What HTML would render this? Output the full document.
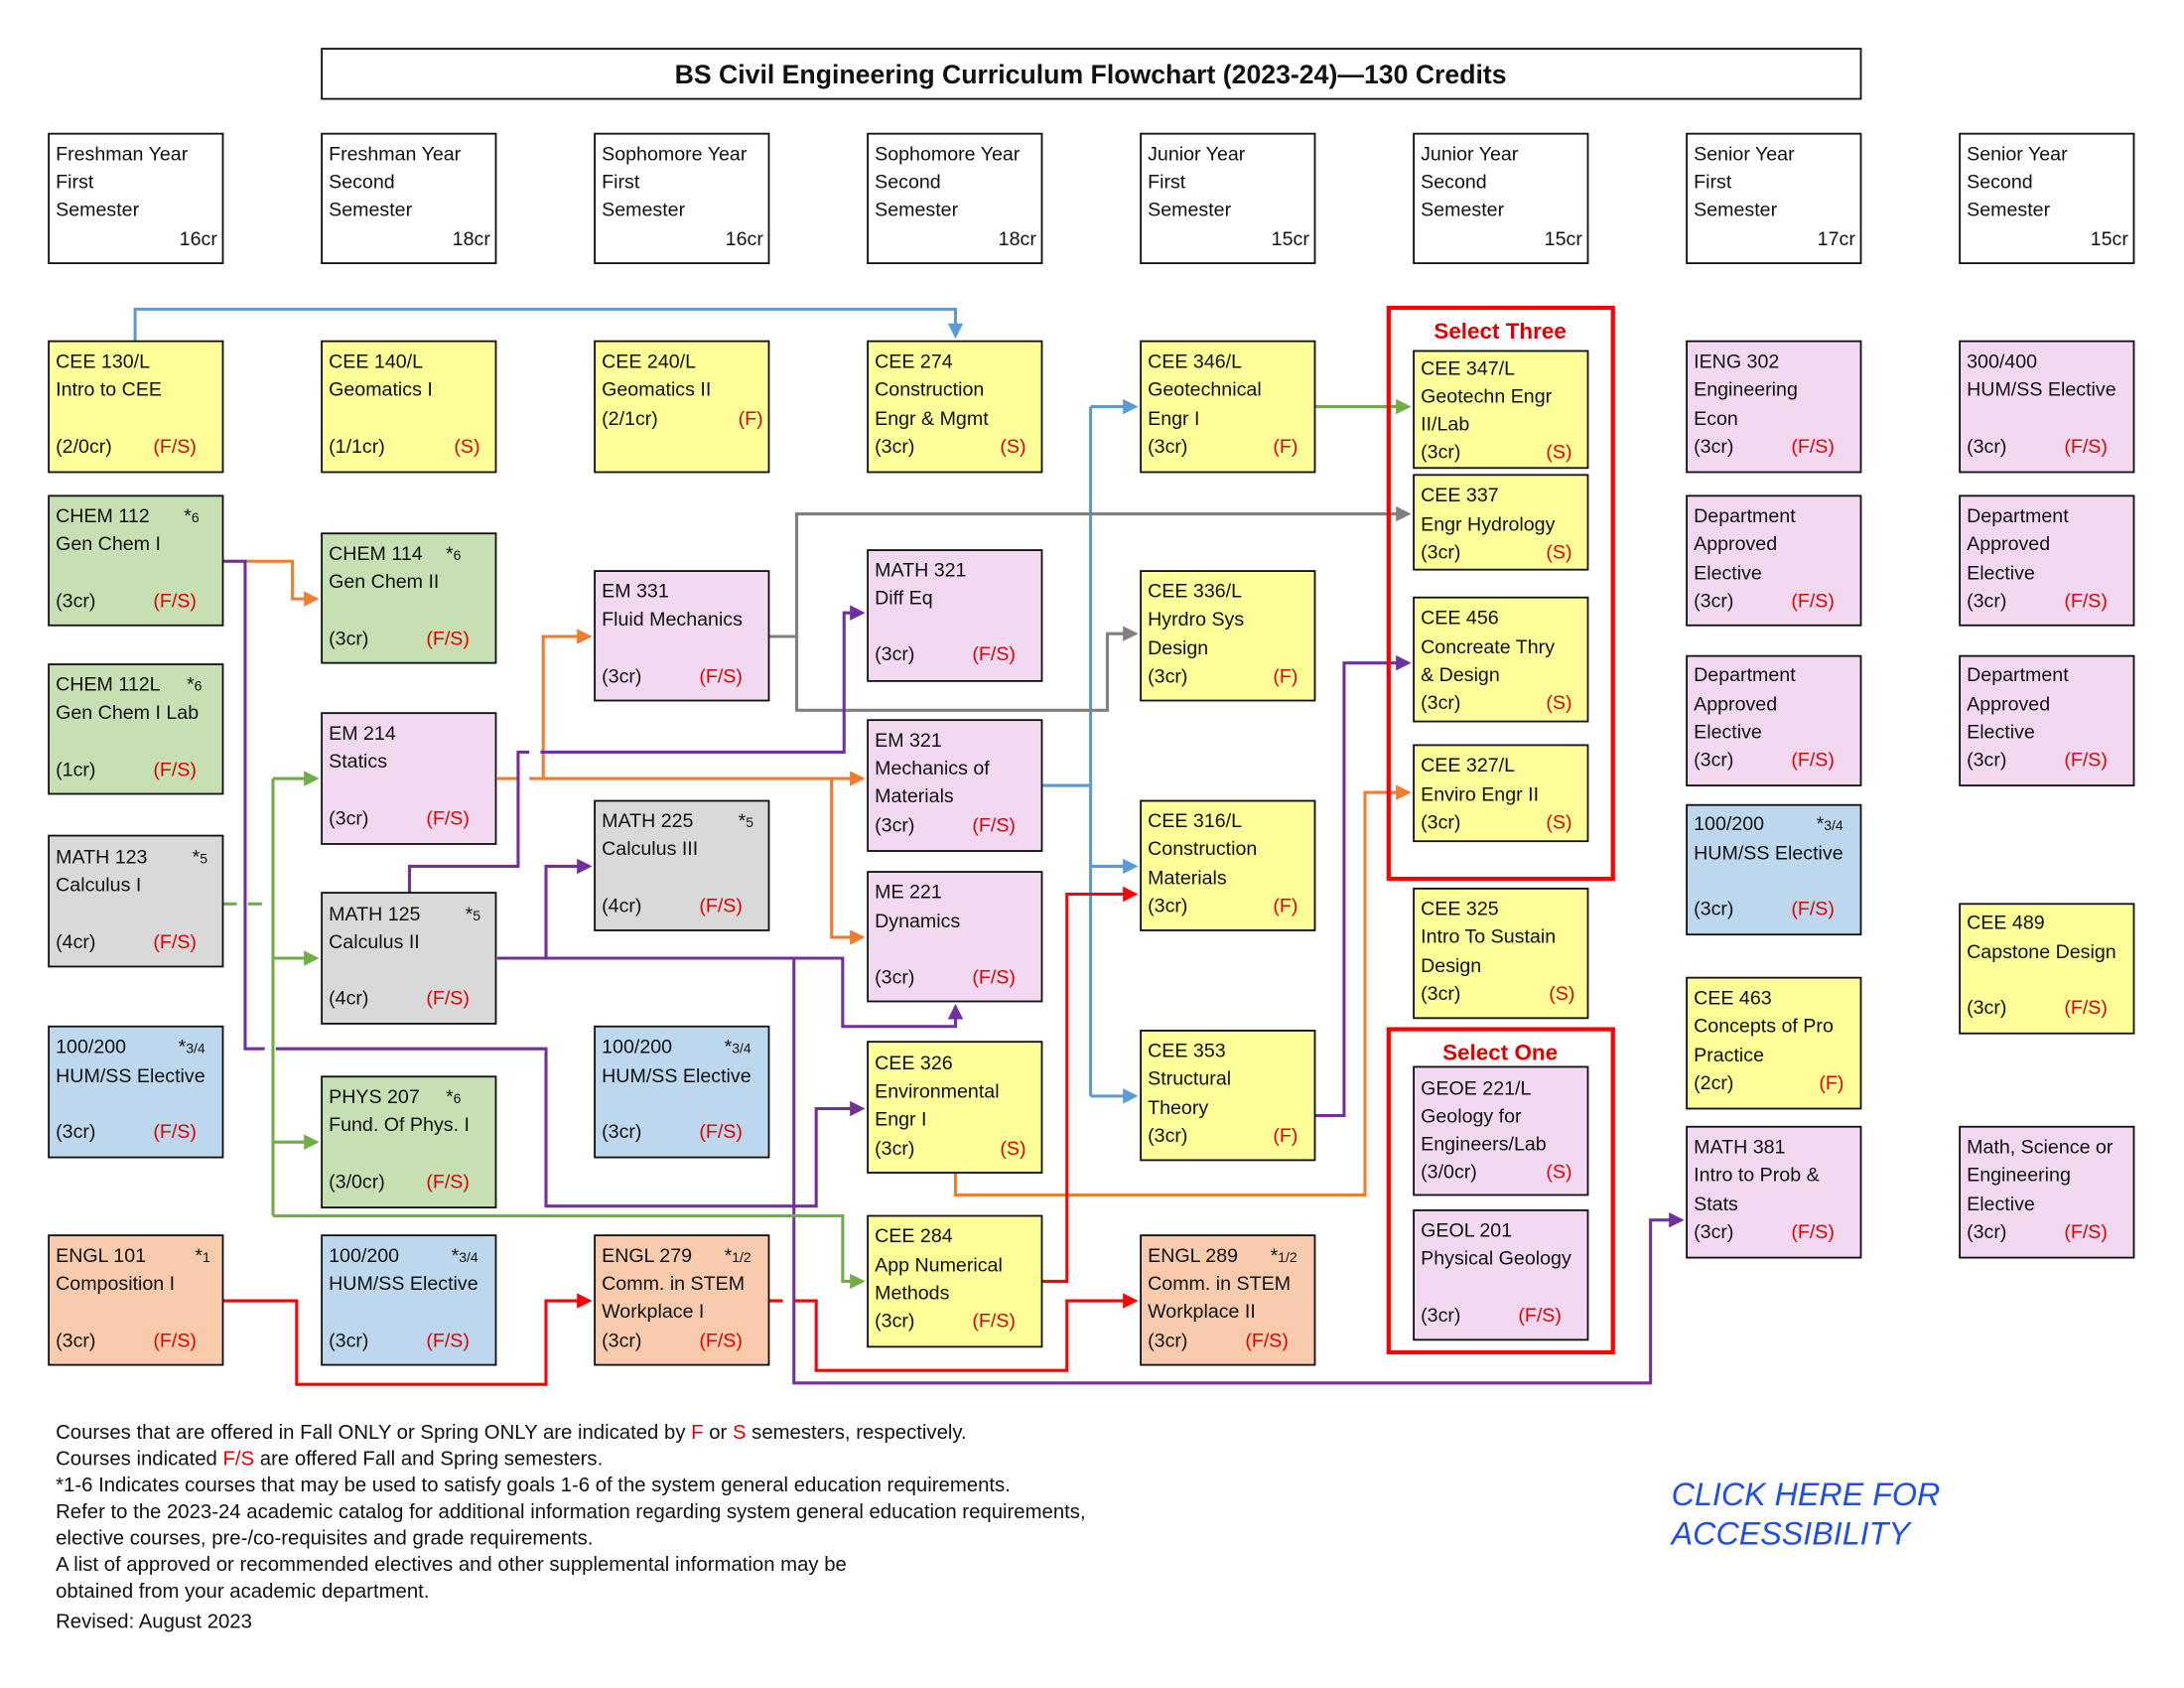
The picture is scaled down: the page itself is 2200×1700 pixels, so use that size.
<!DOCTYPE html>
<html><head><meta charset="utf-8"><style>
html,body{margin:0;padding:0;background:#fff;}
svg{display:block;}
text{font-family:"Liberation Sans",sans-serif;font-size:14px;fill:#111;}
.r{fill:#E00000;}
.y{fill:#FFFF99;stroke:#111;stroke-width:1.3;}
.g{fill:#C6E0B4;stroke:#111;stroke-width:1.3;}
.k{fill:#D9D9D9;stroke:#111;stroke-width:1.3;}
.b{fill:#BDD7EE;stroke:#111;stroke-width:1.3;}
.p{fill:#F8CBAD;stroke:#111;stroke-width:1.3;}
.m{fill:#F2D8F0;stroke:#111;stroke-width:1.3;}
.w{fill:#fff;stroke:#111;stroke-width:1.3;}
.l{fill:none;stroke-width:2.2;}
.sm{font-size:10px;}
.ft{font-size:14.5px;}
</style></head><body>
<svg width="2200" height="1700" viewBox="0 0 1568 1212" preserveAspectRatio="none" xmlns="http://www.w3.org/2000/svg">
<defs>
<marker id="aB" markerWidth="5" markerHeight="5" refX="4" refY="2.5" orient="auto"><path d="M0,0L5,2.5L0,5z" fill="#5B9BD5"/></marker>
<marker id="aG" markerWidth="5" markerHeight="5" refX="4" refY="2.5" orient="auto"><path d="M0,0L5,2.5L0,5z" fill="#70AD47"/></marker>
<marker id="aY" markerWidth="5" markerHeight="5" refX="4" refY="2.5" orient="auto"><path d="M0,0L5,2.5L0,5z" fill="#808080"/></marker>
<marker id="aO" markerWidth="5" markerHeight="5" refX="4" refY="2.5" orient="auto"><path d="M0,0L5,2.5L0,5z" fill="#ED7D31"/></marker>
<marker id="aP" markerWidth="5" markerHeight="5" refX="4" refY="2.5" orient="auto"><path d="M0,0L5,2.5L0,5z" fill="#7030A0"/></marker>
<marker id="aR" markerWidth="5" markerHeight="5" refX="4" refY="2.5" orient="auto"><path d="M0,0L5,2.5L0,5z" fill="#FF0000"/></marker>
</defs>

<rect x="231" y="35" width="1105" height="36" class="w"/>
<text x="783" y="60" text-anchor="middle" style="font-size:19px;font-weight:bold">BS Civil Engineering Curriculum Flowchart (2023-24)—130 Credits</text>

<g><rect x="35" y="96" width="125" height="93" class="w"/><text x="40" y="115">Freshman Year</text><text x="40" y="135">First</text><text x="40" y="155">Semester</text><text x="156" y="176" text-anchor="end">16cr</text></g>
<g><rect x="231" y="96" width="125" height="93" class="w"/><text x="236" y="115">Freshman Year</text><text x="236" y="135">Second</text><text x="236" y="155">Semester</text><text x="352" y="176" text-anchor="end">18cr</text></g>
<g><rect x="427" y="96" width="125" height="93" class="w"/><text x="432" y="115">Sophomore Year</text><text x="432" y="135">First</text><text x="432" y="155">Semester</text><text x="548" y="176" text-anchor="end">16cr</text></g>
<g><rect x="623" y="96" width="125" height="93" class="w"/><text x="628" y="115">Sophomore Year</text><text x="628" y="135">Second</text><text x="628" y="155">Semester</text><text x="744" y="176" text-anchor="end">18cr</text></g>
<g><rect x="819" y="96" width="125" height="93" class="w"/><text x="824" y="115">Junior Year</text><text x="824" y="135">First</text><text x="824" y="155">Semester</text><text x="940" y="176" text-anchor="end">15cr</text></g>
<g><rect x="1015" y="96" width="125" height="93" class="w"/><text x="1020" y="115">Junior Year</text><text x="1020" y="135">Second</text><text x="1020" y="155">Semester</text><text x="1136" y="176" text-anchor="end">15cr</text></g>
<g><rect x="1211" y="96" width="125" height="93" class="w"/><text x="1216" y="115">Senior Year</text><text x="1216" y="135">First</text><text x="1216" y="155">Semester</text><text x="1332" y="176" text-anchor="end">17cr</text></g>
<g><rect x="1407" y="96" width="125" height="93" class="w"/><text x="1412" y="115">Senior Year</text><text x="1412" y="135">Second</text><text x="1412" y="155">Semester</text><text x="1528" y="176" text-anchor="end">15cr</text></g>

<path class="l" stroke="#5B9BD5" d="M97,245V222H686V241" marker-end="url(#aB)"/>
<path class="l" stroke="#5B9BD5" d="M748,564H783M783,292V787M783,292H815" marker-end="url(#aB)"/>
<path class="l" stroke="#5B9BD5" d="M783,622H815" marker-end="url(#aB)"/>
<path class="l" stroke="#5B9BD5" d="M783,787H815" marker-end="url(#aB)"/>
<path class="l" stroke="#70AD47" d="M944,292H1011" marker-end="url(#aG)"/>
<path class="l" stroke="#808080" d="M552,457H572V369H1011" marker-end="url(#aY)"/>
<path class="l" stroke="#808080" d="M572,457V510H795V455H815" marker-end="url(#aY)"/>
<path class="l" stroke="#ED7D31" d="M160,403H210V430H227" marker-end="url(#aO)"/>
<path class="l" stroke="#ED7D31" d="M357,559H372M380,559H619" marker-end="url(#aO)"/>
<path class="l" stroke="#ED7D31" d="M390,559V457H423" marker-end="url(#aO)"/>
<path class="l" stroke="#ED7D31" d="M597,559V673H619" marker-end="url(#aO)"/>
<path class="l" stroke="#ED7D31" d="M686,842V858H980V569H1011" marker-end="url(#aO)"/>
<path class="l" stroke="#7030A0" d="M160,403H176V753H190M198,753H392V866H586V796H619" marker-end="url(#aP)"/>
<path class="l" stroke="#7030A0" d="M294,641V622H372V540H380M388,540H606V440H619" marker-end="url(#aP)"/>
<path class="l" stroke="#7030A0" d="M357,688H605V737H686V723" marker-end="url(#aP)"/>
<path class="l" stroke="#7030A0" d="M392,688V622H423" marker-end="url(#aP)"/>
<path class="l" stroke="#7030A0" d="M570,688V993H1185V876H1207" marker-end="url(#aP)"/>
<path class="l" stroke="#7030A0" d="M944,801H965V476H1011" marker-end="url(#aP)"/>
<path class="l" stroke="#70AD47" d="M160,649H170M178,649H188M196,559V873" />
<path class="l" stroke="#70AD47" d="M196,559H227" marker-end="url(#aG)"/>
<path class="l" stroke="#70AD47" d="M196,688H227" marker-end="url(#aG)"/>
<path class="l" stroke="#70AD47" d="M196,820H227" marker-end="url(#aG)"/>
<path class="l" stroke="#70AD47" d="M196,873H605V920H619" marker-end="url(#aG)"/>
<path class="l" stroke="#FF0000" d="M160,934H213V994H392V934H423" marker-end="url(#aR)"/>
<path class="l" stroke="#FF0000" d="M552,934H562M570,934H586V984H766V934H815" marker-end="url(#aR)"/>
<path class="l" stroke="#FF0000" d="M748,920H766V642H815" marker-end="url(#aR)"/>

<g><rect x="35" y="245" width="125" height="94" class="y"/><text x="40" y="264">CEE 130/L</text><text x="40" y="284">Intro to CEE</text><text x="40" y="325">(2/0cr)</text><text x="110" y="325" class="r">(F/S)</text></g>
<g><rect x="35" y="356" width="125" height="93" class="g"/><text x="40" y="375">CHEM 112</text><text x="132" y="375">*<tspan class="sm">6</tspan></text><text x="40" y="395">Gen Chem I</text><text x="40" y="436">(3cr)</text><text x="110" y="436" class="r">(F/S)</text></g>
<g><rect x="35" y="477" width="125" height="93" class="g"/><text x="40" y="496">CHEM 112L</text><text x="134" y="496">*<tspan class="sm">6</tspan></text><text x="40" y="516">Gen Chem I Lab</text><text x="40" y="557">(1cr)</text><text x="110" y="557" class="r">(F/S)</text></g>
<g><rect x="35" y="600" width="125" height="94" class="k"/><text x="40" y="620">MATH 123</text><text x="138" y="620">*<tspan class="sm">5</tspan></text><text x="40" y="640">Calculus I</text><text x="40" y="681">(4cr)</text><text x="110" y="681" class="r">(F/S)</text></g>
<g><rect x="35" y="737" width="125" height="94" class="b"/><text x="40" y="756">100/200</text><text x="128" y="756">*<tspan class="sm">3/4</tspan></text><text x="40" y="777">HUM/SS Elective</text><text x="40" y="817">(3cr)</text><text x="110" y="817" class="r">(F/S)</text></g>
<g><rect x="35" y="887" width="125" height="93" class="p"/><text x="40" y="906">ENGL 101</text><text x="140" y="906">*<tspan class="sm">1</tspan></text><text x="40" y="926">Composition I</text><text x="40" y="967">(3cr)</text><text x="110" y="967" class="r">(F/S)</text></g>

<g><rect x="231" y="245" width="125" height="94" class="y"/><text x="236" y="264">CEE 140/L</text><text x="236" y="284">Geomatics I</text><text x="236" y="325">(1/1cr)</text><text x="326" y="325" class="r">(S)</text></g>
<g><rect x="231" y="383" width="125" height="93" class="g"/><text x="236" y="402">CHEM 114</text><text x="320" y="402">*<tspan class="sm">6</tspan></text><text x="236" y="422">Gen Chem II</text><text x="236" y="463">(3cr)</text><text x="306" y="463" class="r">(F/S)</text></g>
<g><rect x="231" y="512" width="125" height="94" class="m"/><text x="236" y="531">EM 214</text><text x="236" y="551">Statics</text><text x="236" y="592">(3cr)</text><text x="306" y="592" class="r">(F/S)</text></g>
<g><rect x="231" y="641" width="125" height="94" class="k"/><text x="236" y="661">MATH 125</text><text x="334" y="661">*<tspan class="sm">5</tspan></text><text x="236" y="681">Calculus II</text><text x="236" y="721">(4cr)</text><text x="306" y="721" class="r">(F/S)</text></g>
<g><rect x="231" y="773" width="125" height="94" class="g"/><text x="236" y="792">PHYS 207</text><text x="320" y="792">*<tspan class="sm">6</tspan></text><text x="236" y="812">Fund. Of Phys. I</text><text x="236" y="853">(3/0cr)</text><text x="306" y="853" class="r">(F/S)</text></g>
<g><rect x="231" y="887" width="125" height="93" class="b"/><text x="236" y="906">100/200</text><text x="324" y="906">*<tspan class="sm">3/4</tspan></text><text x="236" y="926">HUM/SS Elective</text><text x="236" y="967">(3cr)</text><text x="306" y="967" class="r">(F/S)</text></g>

<g><rect x="427" y="245" width="125" height="94" class="y"/><text x="432" y="264">CEE 240/L</text><text x="432" y="284">Geomatics II</text><text x="432" y="305">(2/1cr)</text><text x="530" y="305" class="r">(F)</text></g>
<g><rect x="427" y="410" width="125" height="93" class="m"/><text x="432" y="429">EM 331</text><text x="432" y="449">Fluid Mechanics</text><text x="432" y="490">(3cr)</text><text x="502" y="490" class="r">(F/S)</text></g>
<g><rect x="427" y="575" width="125" height="93" class="k"/><text x="432" y="594">MATH 225</text><text x="530" y="594">*<tspan class="sm">5</tspan></text><text x="432" y="614">Calculus III</text><text x="432" y="655">(4cr)</text><text x="502" y="655" class="r">(F/S)</text></g>
<g><rect x="427" y="737" width="125" height="94" class="b"/><text x="432" y="756">100/200</text><text x="520" y="756">*<tspan class="sm">3/4</tspan></text><text x="432" y="777">HUM/SS Elective</text><text x="432" y="817">(3cr)</text><text x="502" y="817" class="r">(F/S)</text></g>
<g><rect x="427" y="887" width="125" height="93" class="p"/><text x="432" y="906">ENGL 279</text><text x="520" y="906">*<tspan class="sm">1/2</tspan></text><text x="432" y="926">Comm. in STEM</text><text x="432" y="946">Workplace I</text><text x="432" y="967">(3cr)</text><text x="502" y="967" class="r">(F/S)</text></g>

<g><rect x="623" y="245" width="125" height="94" class="y"/><text x="628" y="264">CEE 274</text><text x="628" y="284">Construction</text><text x="628" y="305">Engr &amp; Mgmt</text><text x="628" y="325">(3cr)</text><text x="718" y="325" class="r">(S)</text></g>
<g><rect x="623" y="395" width="125" height="94" class="m"/><text x="628" y="414">MATH 321</text><text x="628" y="434">Diff Eq</text><text x="628" y="474">(3cr)</text><text x="698" y="474" class="r">(F/S)</text></g>
<g><rect x="623" y="517" width="125" height="94" class="m"/><text x="628" y="536">EM 321</text><text x="628" y="556">Mechanics of</text><text x="628" y="576">Materials</text><text x="628" y="597">(3cr)</text><text x="698" y="597" class="r">(F/S)</text></g>
<g><rect x="623" y="626" width="125" height="93" class="m"/><text x="628" y="645">ME 221</text><text x="628" y="666">Dynamics</text><text x="628" y="706">(3cr)</text><text x="698" y="706" class="r">(F/S)</text></g>
<g><rect x="623" y="748" width="125" height="94" class="y"/><text x="628" y="768">CEE 326</text><text x="628" y="788">Environmental</text><text x="628" y="808">Engr I</text><text x="628" y="829">(3cr)</text><text x="718" y="829" class="r">(S)</text></g>
<g><rect x="623" y="873" width="125" height="94" class="y"/><text x="628" y="892">CEE 284</text><text x="628" y="913">App Numerical</text><text x="628" y="933">Methods</text><text x="628" y="953">(3cr)</text><text x="698" y="953" class="r">(F/S)</text></g>

<g><rect x="819" y="245" width="125" height="94" class="y"/><text x="824" y="264">CEE 346/L</text><text x="824" y="284">Geotechnical</text><text x="824" y="305">Engr I</text><text x="824" y="325">(3cr)</text><text x="914" y="325" class="r">(F)</text></g>
<g><rect x="819" y="410" width="125" height="93" class="y"/><text x="824" y="429">CEE 336/L</text><text x="824" y="449">Hyrdro Sys</text><text x="824" y="470">Design</text><text x="824" y="490">(3cr)</text><text x="914" y="490" class="r">(F)</text></g>
<g><rect x="819" y="575" width="125" height="93" class="y"/><text x="824" y="594">CEE 316/L</text><text x="824" y="614">Construction</text><text x="824" y="635">Materials</text><text x="824" y="655">(3cr)</text><text x="914" y="655" class="r">(F)</text></g>
<g><rect x="819" y="740" width="125" height="93" class="y"/><text x="824" y="759">CEE 353</text><text x="824" y="779">Structural</text><text x="824" y="800">Theory</text><text x="824" y="820">(3cr)</text><text x="914" y="820" class="r">(F)</text></g>
<g><rect x="819" y="887" width="125" height="93" class="p"/><text x="824" y="906">ENGL 289</text><text x="912" y="906">*<tspan class="sm">1/2</tspan></text><text x="824" y="926">Comm. in STEM</text><text x="824" y="946">Workplace II</text><text x="824" y="967">(3cr)</text><text x="894" y="967" class="r">(F/S)</text></g>

<rect x="997" y="221" width="161" height="410" fill="none" stroke="#FF0000" stroke-width="3"/>
<text x="1077" y="243" text-anchor="middle" class="r" style="font-size:16px;font-weight:bold">Select Three</text>
<g><rect x="1015" y="252" width="125" height="84" class="y"/><text x="1020" y="269">CEE 347/L</text><text x="1020" y="289">Geotechn Engr</text><text x="1020" y="309">II/Lab</text><text x="1020" y="329">(3cr)</text><text x="1110" y="329" class="r">(S)</text></g>
<g><rect x="1015" y="341" width="125" height="68" class="y"/><text x="1020" y="360">CEE 337</text><text x="1020" y="381">Engr Hydrology</text><text x="1020" y="401">(3cr)</text><text x="1110" y="401" class="r">(S)</text></g>
<g><rect x="1015" y="429" width="125" height="89" class="y"/><text x="1020" y="448">CEE 456</text><text x="1020" y="469">Concreate Thry</text><text x="1020" y="489">&amp; Design</text><text x="1020" y="509">(3cr)</text><text x="1110" y="509" class="r">(S)</text></g>
<g><rect x="1015" y="535" width="125" height="69" class="y"/><text x="1020" y="554">CEE 327/L</text><text x="1020" y="575">Enviro Engr II</text><text x="1020" y="595">(3cr)</text><text x="1110" y="595" class="r">(S)</text></g>
<g><rect x="1015" y="638" width="125" height="93" class="y"/><text x="1020" y="657">CEE 325</text><text x="1020" y="677">Intro To Sustain</text><text x="1020" y="698">Design</text><text x="1020" y="718">(3cr)</text><text x="1112" y="718" class="r">(S)</text></g>
<rect x="997" y="739" width="161" height="232" fill="none" stroke="#FF0000" stroke-width="3"/>
<text x="1077" y="761" text-anchor="middle" class="r" style="font-size:16px;font-weight:bold">Select One</text>
<g><rect x="1015" y="766" width="125" height="92" class="m"/><text x="1020" y="786">GEOE 221/L</text><text x="1020" y="806">Geology for</text><text x="1020" y="826">Engineers/Lab</text><text x="1020" y="846">(3/0cr)</text><text x="1110" y="846" class="r">(S)</text></g>
<g><rect x="1015" y="869" width="125" height="93" class="m"/><text x="1020" y="888">GEOL 201</text><text x="1020" y="908">Physical Geology</text><text x="1020" y="949">(3cr)</text><text x="1090" y="949" class="r">(F/S)</text></g>

<g><rect x="1211" y="245" width="125" height="94" class="m"/><text x="1216" y="264">IENG 302</text><text x="1216" y="284">Engineering</text><text x="1216" y="305">Econ</text><text x="1216" y="325">(3cr)</text><text x="1286" y="325" class="r">(F/S)</text></g>
<g><rect x="1211" y="356" width="125" height="93" class="m"/><text x="1216" y="375">Department</text><text x="1216" y="395">Approved</text><text x="1216" y="416">Elective</text><text x="1216" y="436">(3cr)</text><text x="1286" y="436" class="r">(F/S)</text></g>
<g><rect x="1211" y="471" width="125" height="93" class="m"/><text x="1216" y="489">Department</text><text x="1216" y="510">Approved</text><text x="1216" y="530">Elective</text><text x="1216" y="550">(3cr)</text><text x="1286" y="550" class="r">(F/S)</text></g>
<g><rect x="1211" y="578" width="125" height="93" class="b"/><text x="1216" y="596">100/200</text><text x="1304" y="596">*<tspan class="sm">3/4</tspan></text><text x="1216" y="617">HUM/SS Elective</text><text x="1216" y="657">(3cr)</text><text x="1286" y="657" class="r">(F/S)</text></g>
<g><rect x="1211" y="702" width="125" height="94" class="y"/><text x="1216" y="721">CEE 463</text><text x="1216" y="741">Concepts of Pro</text><text x="1216" y="762">Practice</text><text x="1216" y="782">(2cr)</text><text x="1306" y="782" class="r">(F)</text></g>
<g><rect x="1211" y="809" width="125" height="94" class="m"/><text x="1216" y="828">MATH 381</text><text x="1216" y="848">Intro to Prob &amp;</text><text x="1216" y="869">Stats</text><text x="1216" y="889">(3cr)</text><text x="1286" y="889" class="r">(F/S)</text></g>

<g><rect x="1407" y="245" width="125" height="94" class="m"/><text x="1412" y="264">300/400</text><text x="1412" y="284">HUM/SS Elective</text><text x="1412" y="325">(3cr)</text><text x="1482" y="325" class="r">(F/S)</text></g>
<g><rect x="1407" y="356" width="125" height="93" class="m"/><text x="1412" y="375">Department</text><text x="1412" y="395">Approved</text><text x="1412" y="416">Elective</text><text x="1412" y="436">(3cr)</text><text x="1482" y="436" class="r">(F/S)</text></g>
<g><rect x="1407" y="471" width="125" height="93" class="m"/><text x="1412" y="489">Department</text><text x="1412" y="510">Approved</text><text x="1412" y="530">Elective</text><text x="1412" y="550">(3cr)</text><text x="1482" y="550" class="r">(F/S)</text></g>
<g><rect x="1407" y="649" width="125" height="93" class="y"/><text x="1412" y="667">CEE 489</text><text x="1412" y="688">Capstone Design</text><text x="1412" y="728">(3cr)</text><text x="1482" y="728" class="r">(F/S)</text></g>
<g><rect x="1407" y="809" width="125" height="94" class="m"/><text x="1412" y="828">Math, Science or</text><text x="1412" y="848">Engineering</text><text x="1412" y="869">Elective</text><text x="1412" y="889">(3cr)</text><text x="1482" y="889" class="r">(F/S)</text></g>

<text x="40" y="1033" class="ft">Courses that are offered in Fall ONLY or Spring ONLY are indicated by <tspan class="r">F</tspan> or <tspan class="r">S</tspan> semesters, respectively.</text>
<text x="40" y="1052" class="ft">Courses indicated <tspan class="r">F/S</tspan> are offered Fall and Spring semesters.</text>
<text x="40" y="1071" class="ft">*1-6 Indicates courses that may be used to satisfy goals 1-6 of the system general education requirements.</text>
<text x="40" y="1090" class="ft">Refer to the 2023-24 academic catalog for additional information regarding system general education requirements,</text>
<text x="40" y="1109" class="ft">elective courses, pre-/co-requisites and grade requirements.</text>
<text x="40" y="1128" class="ft">A list of approved or recommended electives and other supplemental information may be</text>
<text x="40" y="1147" class="ft">obtained from your academic department.</text>
<text x="40" y="1169" class="ft">Revised: August 2023</text>
<text x="1200" y="1081" style="font-size:23px;font-style:italic;fill:#1F4FE8">CLICK HERE FOR</text>
<text x="1200" y="1109" style="font-size:23px;font-style:italic;fill:#1F4FE8">ACCESSIBILITY</text>
</svg>
</body></html>
